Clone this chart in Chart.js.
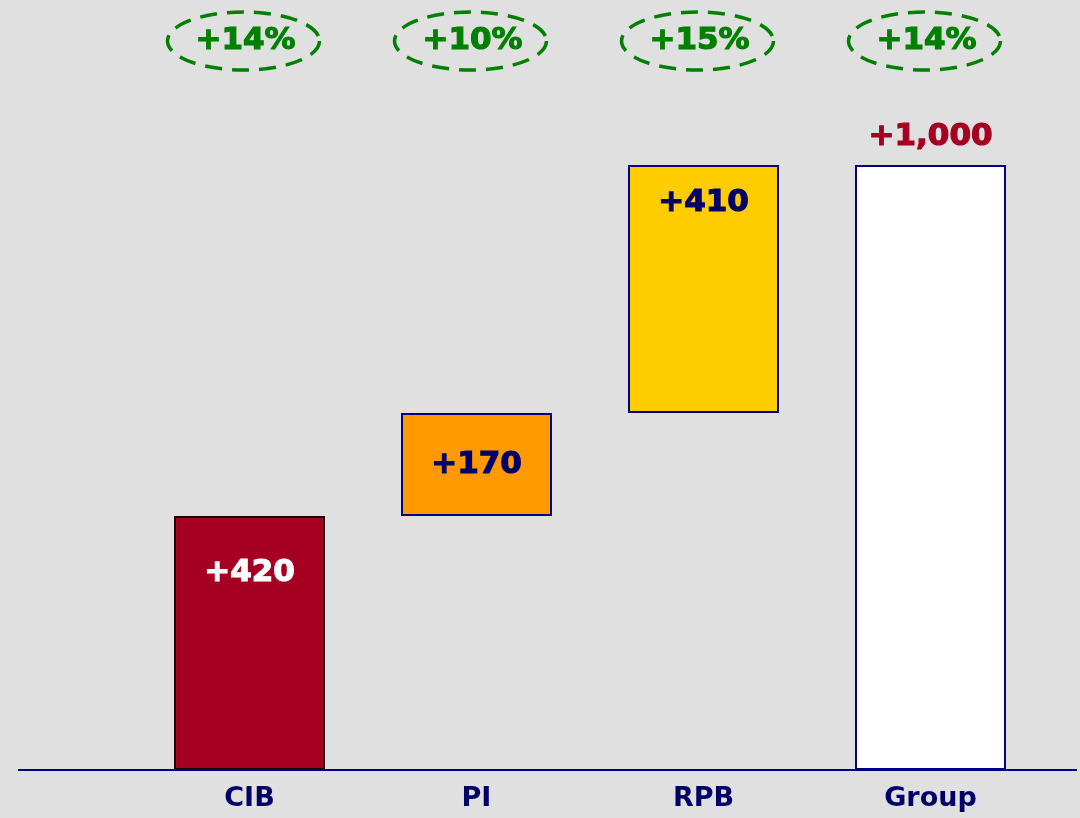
<!DOCTYPE html>
<html>
<head>
<meta charset="utf-8">
<script src="https://cdn.jsdelivr.net/npm/chart.js@4"></script>
<style>
  html, body { margin: 0; padding: 0; background: #e0e0e0; }
  #chart { display: block; }
</style>
</head>
<body>
<canvas id="chart" width="1080" height="818"></canvas>
<script>
// contributions by business line, then the group total
const categories = ['CIB', 'PI', 'RPB', 'Group'];
const changes = [420, 170, 410, 1000];
const isTotal = [false, false, false, true];
const valueLabels = ['+420', '+170', '+410', '+1,000'];
const growth = ['+14%', '+10%', '+15%', '+14%'];

const fillColors = ['#a50021', '#ff9900', '#ffcc00', '#ffffff'];
const edgeColors = ['#1a0008', '#000080', '#000080', '#000080'];

// floating bars: each step starts where the previous one ended
let running = 0;
const steps = changes.map((v, i) => {
  if (isTotal[i]) return [0, v];
  const s = [running, running + v];
  running += v;
  return s;
});

const FONT = '"DejaVu Sans", Verdana, sans-serif';

// heavy text: fill plus a thin stroke in the same colour
function boldText(ctx, text, x, y, color) {
  ctx.fillStyle = color;
  ctx.strokeStyle = color;
  ctx.lineWidth = 1.2;
  ctx.fillText(text, x, y);
  ctx.strokeText(text, x, y);
}

const waterfallLabels = {
  id: 'waterfallLabels',
  afterDatasetsDraw(chart) {
    const ctx = chart.ctx;
    const meta = chart.getDatasetMeta(0);
    const yScale = chart.scales.y;
    ctx.save();

    // base line across the whole width
    const y0 = yScale.getPixelForValue(0);
    ctx.strokeStyle = '#000080';
    ctx.lineWidth = 2;
    ctx.beginPath();
    ctx.moveTo(18, y0);
    ctx.lineTo(1077, y0);
    ctx.stroke();

    ctx.textAlign = 'center';
    ctx.textBaseline = 'middle';
    meta.data.forEach((bar, i) => {
      const top = Math.min(bar.y, bar.base);
      const bottom = Math.max(bar.y, bar.base);
      ctx.font = 'bold 31px ' + FONT;
      if (i === 0) {
        boldText(ctx, valueLabels[i], bar.x, top + 57, '#ffffff');
      } else if (i === 1) {
        boldText(ctx, valueLabels[i], bar.x, (top + bottom) / 2, '#000066');
      } else if (i === 2) {
        boldText(ctx, valueLabels[i], bar.x, top + 38, '#000066');
      } else {
        boldText(ctx, valueLabels[i], bar.x, top - 28, '#a50021');
      }

      // growth rate in a dashed ellipse above each column
      const cx = bar.x - 6;
      ctx.strokeStyle = '#008000';
      ctx.lineWidth = 3.5;
      ctx.setLineDash([17, 10]);
      ctx.beginPath();
      ctx.ellipse(cx, 41, 76, 29, 0, 0, Math.PI * 2);
      ctx.stroke();
      ctx.setLineDash([]);
      ctx.font = 'bold 31px ' + FONT;
      boldText(ctx, growth[i], cx + 2, 41, '#008000');
    });
    ctx.restore();
  }
};

new Chart(document.getElementById('chart'), {
  type: 'bar',
  data: {
    labels: categories,
    datasets: [{
      data: steps,
      backgroundColor: fillColors,
      borderColor: edgeColors,
      borderWidth: 2,
      borderSkipped: false,
      barPercentage: 0.665,
      categoryPercentage: 1.0
    }]
  },
  options: {
    responsive: false,
    animation: false,
    layout: { padding: { top: 165, left: 136, right: 36, bottom: 1 } },
    plugins: {
      legend: { display: false },
      tooltip: { enabled: false }
    },
    scales: {
      x: {
        grid: { display: false, drawTicks: false },
        border: { display: false },
        ticks: {
          color: '#000066',
          padding: 13,
          font: { family: FONT, size: 27, weight: 'bold' }
        },
        afterFit(scale) { scale.height = 47; }
      },
      y: {
        display: false,
        min: 0,
        max: 1000
      }
    }
  },
  plugins: [waterfallLabels]
});
</script>
</body>
</html>
